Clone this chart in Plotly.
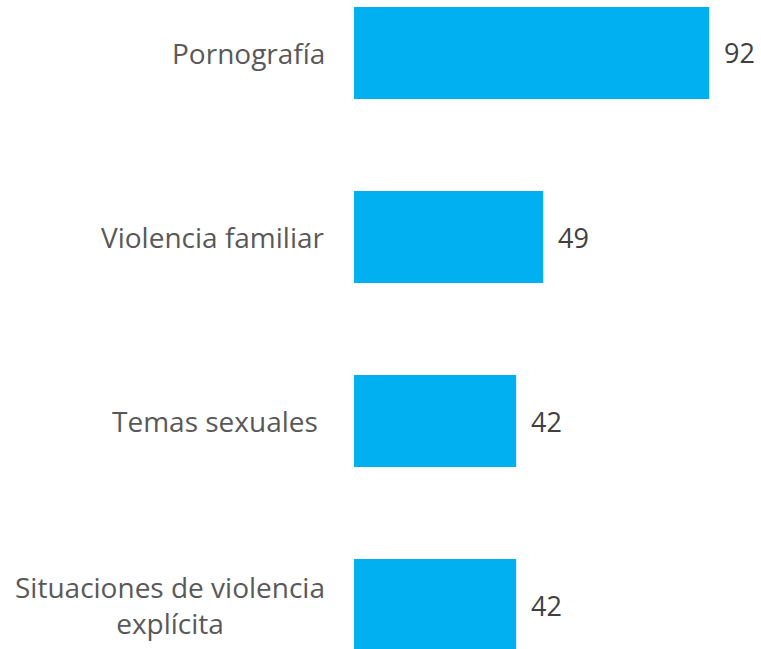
import plotly.graph_objects as go

categories = ["Pornografía", "Violencia familiar", "Temas sexuales\u00a0", "Situaciones de violencia<br>explícita"]
values = [92, 49, 42, 42]
value_labels = ["92", "49", "42", "42"]

BAR_COLOR = "#00B0F0"
FONT = "Open Sans"

fig = go.Figure()
fig.add_trace(go.Bar(
    x=values, y=list(range(len(categories))), orientation="h",
    marker=dict(color=BAR_COLOR, line=dict(width=0)),
    width=0.5, hoverinfo="skip",
))

annotations = []
for i, (c, v, t) in enumerate(zip(categories, values, value_labels)):
    annotations.append(dict(
        x=0, y=i, xref="paper", yref="y", text=c, showarrow=False,
        xanchor="right", yanchor="middle", align="center", xshift=-27,
        font=dict(family=FONT, size=28, color="#595959"),
    ))
    annotations.append(dict(
        x=v, y=i, xref="x", yref="y", text=t, showarrow=False,
        xanchor="left", yanchor="middle", xshift=13,
        font=dict(family=FONT, size=27, color="#404040"),
    ))

fig.update_layout(
    width=761, height=649,
    margin=dict(l=354, r=0, t=0, b=0),
    paper_bgcolor="white", plot_bgcolor="white",
    showlegend=False,
    xaxis=dict(range=[0, 105.4], visible=False, fixedrange=True),
    yaxis=dict(range=[3.239, -0.288], visible=False, fixedrange=True),
    annotations=annotations,
    bargap=0.5,
)

fig.write_html(
    "out.html",
    config={"displayModeBar": False, "staticPlot": True},
    post_script="document.body.style.margin='0';document.body.style.overflow='hidden';",
)
